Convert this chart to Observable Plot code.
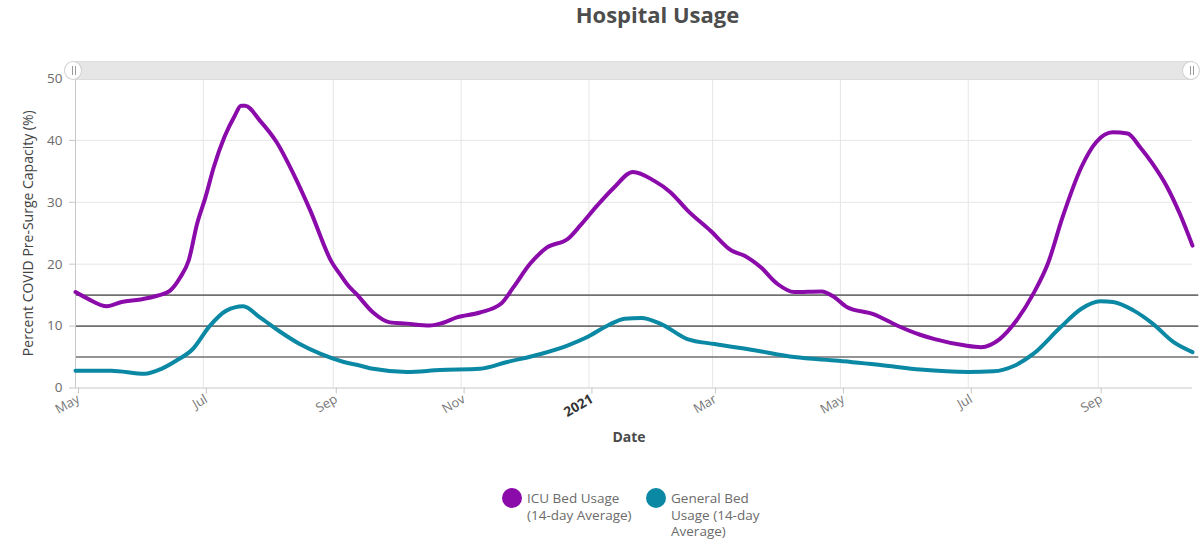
<!DOCTYPE html>
<html>
<head>
<meta charset="utf-8">
<script src="https://cdn.jsdelivr.net/npm/d3@7"></script>
<script src="https://cdn.jsdelivr.net/npm/@observablehq/plot@0.6"></script>
<style>
  html, body { margin: 0; padding: 0; background: #fff; }
  body { width: 1200px; height: 550px; position: relative; overflow: hidden; font-family: "Open Sans", sans-serif; }
  #title { position: absolute; left: 0; width: 1315px; top: -1px; text-align: center; font-size: 22px; font-weight: 700; color: #4d4d4d; line-height: 30px; }
  #chart { position: absolute; left: 0; top: 40px; }
  #scroll { position: absolute; left: 74px; top: 61px; width: 1118px; height: 17px; background: #e6e6e6; border: 1px solid #dcdcdc; border-radius: 2px; }
  .handle { position: absolute; top: 61px; width: 18px; height: 19px; background: #fff; border: 1px solid #d0d0d0; border-radius: 50%; box-sizing: border-box; }
  .handle::before, .handle::after { content: ""; position: absolute; top: 4px; width: 1px; height: 9px; background: #9a9a9a; }
  .handle::before { left: 7px; } .handle::after { left: 10px; }
  .leg { position: absolute; top: 488px; display: flex; align-items: flex-start; }
  .dot { width: 20px; height: 20px; border-radius: 50%; flex: none; }
  .lt { margin-left: 5px; margin-top: 2px; font-size: 13.5px; line-height: 16.5px; color: #6b6b6b; }
</style>
</head>
<body>
<div id="title">Hospital Usage</div>
<div id="chart"></div>
<div id="scroll"></div>
<div class="handle" style="left:64px"></div>
<div class="handle" style="left:1182px"></div>
<div class="leg" style="left:502px"><div class="dot" style="background:#8a0aaa"></div><div class="lt">ICU Bed Usage<br>(14-day Average)</div></div>
<div class="leg" style="left:646px"><div class="dot" style="background:#0a88a4"></div><div class="lt">General Bed<br>Usage (14-day<br>Average)</div></div>
<script>
// ICU bed usage (14-day average), % of pre-surge capacity
const icuDates = ["2020-05-01","2020-05-07","2020-05-16","2020-05-23","2020-06-01","2020-06-09","2020-06-15","2020-06-20","2020-06-24","2020-06-28","2020-07-02","2020-07-06","2020-07-11","2020-07-16","2020-07-19","2020-07-21","2020-07-28","2020-08-05","2020-08-13","2020-08-21","2020-08-31","2020-09-05","2020-09-08","2020-09-12","2020-09-20","2020-09-28","2020-10-06","2020-10-17","2020-10-22","2020-10-30","2020-11-10","2020-11-20","2020-11-26","2020-12-04","2020-12-12","2020-12-22","2020-12-28","2021-01-05","2021-01-13","2021-01-22","2021-02-01","2021-02-09","2021-02-17","2021-02-28","2021-03-10","2021-03-16","2021-03-24","2021-04-01","2021-04-09","2021-04-22","2021-04-28","2021-05-04","2021-05-17","2021-05-28","2021-06-08","2021-06-15","2021-06-29","2021-07-07","2021-07-16","2021-07-24","2021-08-01","2021-08-08","2021-08-15","2021-08-24","2021-08-31","2021-09-08","2021-09-15","2021-09-21","2021-09-27","2021-10-04","2021-10-10","2021-10-16"];
const icuValues = [15.5,14.4,13.2,13.9,14.3,14.9,15.7,17.9,20.6,26.5,30.8,35.7,40.5,44.0,45.6,45.6,43.2,39.7,34.6,28.7,20.5,18.0,16.6,15.2,12.2,10.6,10.4,10.1,10.4,11.4,12.2,13.6,16.3,20.1,22.7,24.1,26.3,29.5,32.4,34.9,33.5,31.6,28.7,25.4,22.2,21.4,19.5,16.8,15.5,15.6,14.7,13.1,11.9,10.1,8.6,7.9,6.9,6.6,7.9,10.9,15.2,20.1,27.6,35.7,39.7,41.3,41.1,38.9,36.2,32.4,28.1,23.0];

// General bed usage (14-day average)
const genDates = ["2020-05-01","2020-05-18","2020-06-03","2020-06-11","2020-06-18","2020-06-26","2020-07-04","2020-07-12","2020-07-20","2020-07-28","2020-08-07","2020-08-16","2020-08-26","2020-09-06","2020-09-14","2020-09-20","2020-10-06","2020-10-22","2020-11-10","2020-11-23","2020-12-09","2020-12-22","2020-12-31","2021-01-10","2021-01-18","2021-01-26","2021-02-04","2021-02-17","2021-03-02","2021-03-21","2021-04-09","2021-04-30","2021-05-23","2021-06-08","2021-07-01","2021-07-13","2021-07-23","2021-08-01","2021-08-14","2021-08-24","2021-09-02","2021-09-08","2021-09-18","2021-09-27","2021-10-07","2021-10-16"];
const genValues = [2.8,2.8,2.3,3.1,4.4,6.3,10.0,12.5,13.2,11.4,9.0,7.1,5.5,4.2,3.6,3.1,2.6,2.9,3.1,4.2,5.5,6.9,8.2,10.1,11.2,11.3,10.4,7.9,7.1,6.1,5.0,4.4,3.6,3.0,2.6,2.7,3.6,5.5,9.8,12.8,14.0,13.9,12.5,10.4,7.4,5.8];

const xTickDates = ["2020-05-01","2020-07-01","2020-09-01","2020-11-01","2021-01-01","2021-03-01","2021-05-01","2021-07-01","2021-09-01"];
const xTickLabels = ["May","Jul","Sep","Nov","2021","Mar","May","Jul","Sep"];
const yTicks = [0,10,20,30,40,50];
const refLines = [5,10,15];

const icu = icuDates.map((d, i) => ({date: new Date(d), value: icuValues[i]}));
const gen = genDates.map((d, i) => ({date: new Date(d), value: genValues[i]}));
const ticks = xTickDates.map(d => new Date(d));
const labelOf = new Map(ticks.map((t, i) => [+t, xTickLabels[i]]));
const yearTick = ticks.filter(t => labelOf.get(+t) === "2021");

const chart = Plot.plot({
  width: 1200,
  height: 420,
  marginTop: 38,
  marginBottom: 72.5,
  marginLeft: 75,
  marginRight: 8,
  style: {fontFamily: "'Open Sans', sans-serif", fontSize: "13px", color: "#6b6b6b", background: "transparent", overflow: "visible"},
  x: {type: "utc", domain: [new Date("2020-05-01"), new Date("2021-10-16")]},
  y: {domain: [0, 50]},
  marks: [
    Plot.gridX(ticks, {stroke: "#e6e6e6", strokeOpacity: 1}),
    Plot.gridY(yTicks.slice(1), {stroke: "#e6e6e6", strokeOpacity: 1}),
    Plot.ruleY(refLines, {stroke: "#707070", strokeWidth: 1.6, x1: new Date("2020-05-01"), x2: new Date("2021-10-19")}),
    Plot.ruleY([0], {stroke: "#c8c8c8"}),
    Plot.ruleX([new Date("2020-05-01")], {stroke: "#c8c8c8"}),
    Plot.line(gen, {x: "date", y: "value", stroke: "#0a88a4", strokeWidth: 4, curve: "monotone-x"}),
    Plot.line(icu, {x: "date", y: "value", stroke: "#8a0aaa", strokeWidth: 4, curve: "monotone-x"}),
    Plot.axisY(yTicks, {tickSize: 6, tickPadding: 7, stroke: "#c8c8c8", fill: "#6b6b6b", fontSize: 13.5, label: null}),
    Plot.axisX(ticks, {tickSize: 6, tickPadding: 4, tickRotate: -30, stroke: "#c8c8c8", fill: "#777", fontSize: 13, label: null, dx: 3,
      tickFormat: d => (labelOf.get(+d) === "2021" ? "" : labelOf.get(+d))}),
    Plot.axisX(yearTick, {tickSize: 0, tickPadding: 10, tickRotate: -30, fill: "#333", fontWeight: "bold", fontSize: 13.5, label: null, dx: 3,
      tickFormat: d => labelOf.get(+d)}),
    Plot.text(["Percent COVID Pre-Surge Capacity (%)"], {frameAnchor: "left", textAnchor: "middle", rotate: -90, dx: -47, fontSize: 14, fontWeight: 500, fill: "#444"}),
    Plot.text(["Date"], {frameAnchor: "bottom", dy: 53.5, dx: -5, fontSize: 14, fontWeight: 700, fill: "#4a4a4a"})
  ]
});
document.getElementById("chart").appendChild(chart);
</script>
</body>
</html>
